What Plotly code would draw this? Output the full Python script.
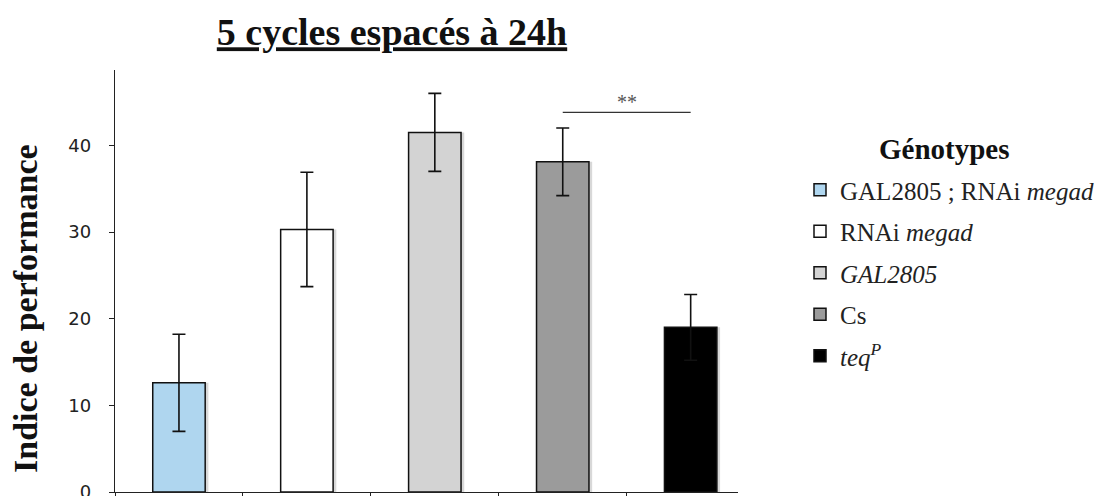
import plotly.graph_objects as go

# Data
genotypes = ["GAL2805 ; RNAi <i>megad</i>", "RNAi <i>megad</i>", "<i>GAL2805</i>", "Cs", "<i>teq<sup>P</sup></i>"]
categories = ["GAL2805;RNAi megad", "RNAi megad", "GAL2805", "Cs", "teqP"]
values = [12.6, 30.3, 41.5, 38.1, 19.0]
errors = [5.6, 6.6, 4.5, 3.9, 3.8]
colors = ["#afd6ef", "#ffffff", "#d3d3d3", "#9b9b9b", "#000000"]
y_ticks = [0, 10, 20, 30, 40]
sig_pair = (3, 4)
sig_label = "**"
sig_y = 43.8

SERIF = "Liberation Serif, Times New Roman, serif"
SANS = "DejaVu Sans, sans-serif"
BAR_W = 0.41

# page offset (body margin) compensation: figure starts at (8, 8) in the page
W, H = 1096, 488
L, T, R, B = 107, 62, 366, 4

fig = go.Figure()
# soft shadows behind bars
fig.add_trace(go.Bar(
    x=categories, y=values, width=BAR_W, offset=-BAR_W / 2 + 0.025,
    marker=dict(color="#d8d8d8", line=dict(width=0)), showlegend=False, hoverinfo="skip",
))
for name, cat, v, e, c in zip(genotypes, categories, values, errors, colors):
    fig.add_trace(go.Bar(
        x=[cat], y=[v], name=name, legendgroup=cat,
        marker=dict(color=c, line=dict(color="#111111", width=1.5)),
        width=BAR_W,
        error_y=dict(type="data", array=[e], visible=True, color="#111111", thickness=1.6, width=6.5),
    ))

# significance bar
fig.add_shape(type="line", xref="x", yref="y",
              x0=categories[sig_pair[0]], x1=categories[sig_pair[1]], y0=sig_y, y1=sig_y,
              line=dict(color="#333333", width=1.3))
fig.add_annotation(x=(sig_pair[0] + sig_pair[1]) / 2, y=sig_y, xref="x", yref="y",
                   text=sig_label, showarrow=False, yanchor="bottom", yshift=-3,
                   font=dict(family=SERIF, size=20, color="#555555"))

# y axis title
fig.add_annotation(text="<b>Indice de performance</b>", xref="paper", yref="paper",
                   x=-0.1445, y=0.436, textangle=-90, showarrow=False,
                   xanchor="center", yanchor="middle",
                   font=dict(family=SERIF, size=34, color="#111111"))
# legend heading
fig.add_annotation(text="<b>Génotypes</b>", xref="paper", yref="paper",
                   x=1.3307, y=0.812, showarrow=False, xanchor="center", yanchor="middle",
                   font=dict(family=SERIF, size=29, color="#111111"))

fig.update_layout(
    width=W, height=H,
    margin=dict(l=L, r=R, t=T, b=B),
    paper_bgcolor="white", plot_bgcolor="white",
    barmode="overlay",
    font=dict(family=SERIF),
    title=dict(text="<b><u>5 cycles espacés à 24h</u></b>", x=384 / W, xanchor="center",
               y=1 - 24 / H, yanchor="middle",
               font=dict(family=SERIF, size=38, color="#111111")),
    legend=dict(
        font=dict(family=SERIF, size=25, color="#222222"),
        xref="container", yref="container",
        x=792 / W, xanchor="left", y=1 - 159 / H, yanchor="top",
        tracegroupgap=6, itemwidth=30, bgcolor="rgba(0,0,0,0)",
    ),
    xaxis=dict(type="category", range=[-0.5, 4.37], showticklabels=False, automargin=False,
               showline=True, linecolor="#222222", linewidth=1.3,
               ticks="outside", tickson="boundaries", ticklen=6, tickcolor="#222222",
               showgrid=False, zeroline=False, fixedrange=True),
    yaxis=dict(range=[0, 48.7], tickvals=y_ticks, showline=True, linecolor="#222222", linewidth=1.3,
               automargin=False, ticklabeloverflow="allow",
               ticks="outside", ticklen=5, tickcolor="#222222", ticklabelstandoff=14,
               showgrid=False, zeroline=False,
               tickfont=dict(family=SANS, size=18, color="#222222")),
)

fig.write_html("out.html")
